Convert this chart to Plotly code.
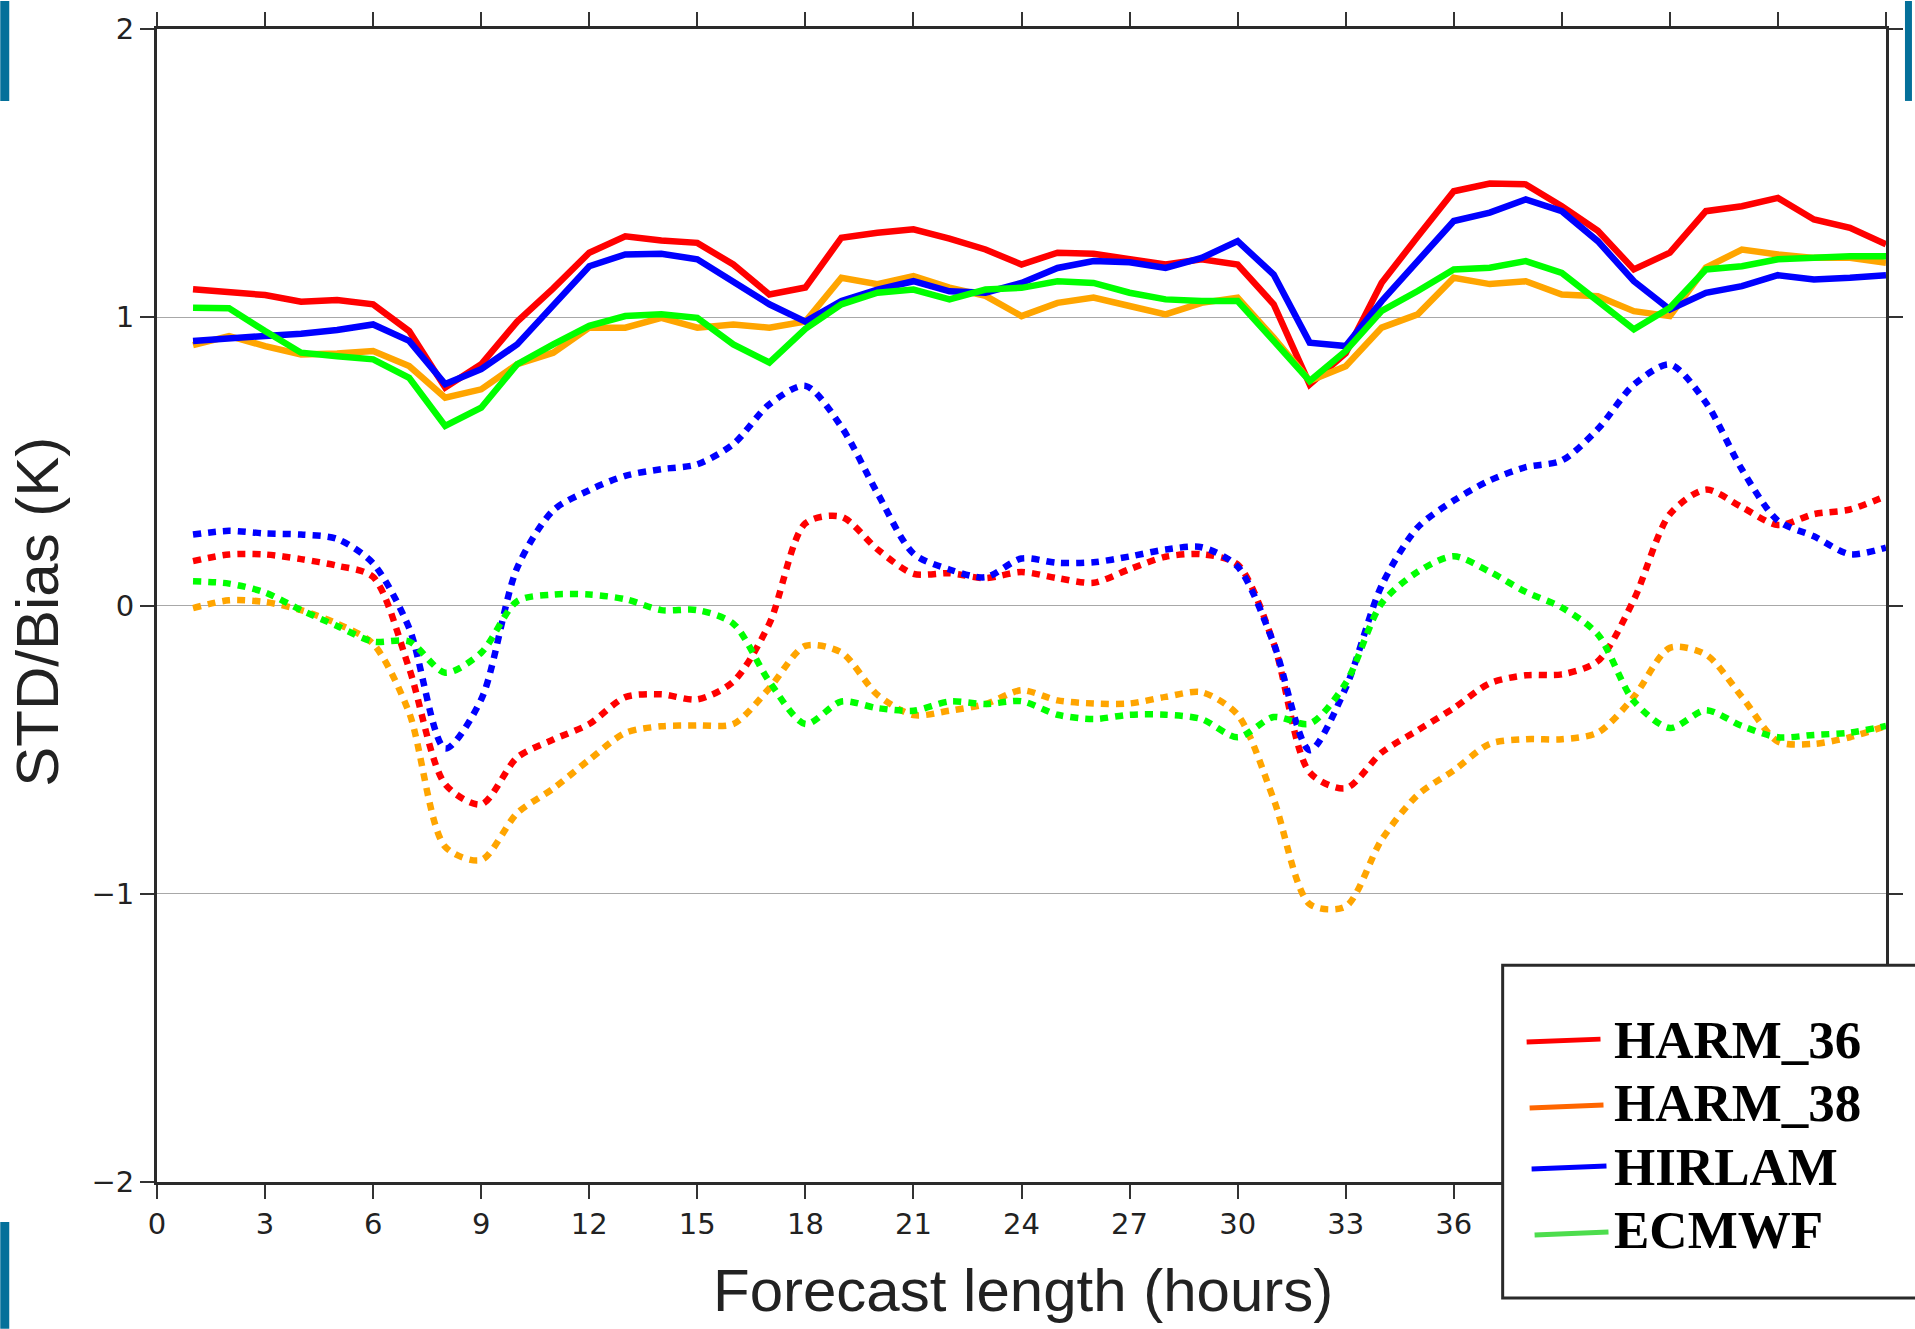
import plotly.graph_objects as go

# ---------------- data ----------------
hours = list(range(1, 49))

std_harm36 = [1.097, 1.089, 1.077, 1.054, 1.060, 1.045, 0.952, 0.756, 0.837, 0.985,
              1.100, 1.224, 1.281, 1.266, 1.258, 1.183, 1.079, 1.103, 1.276, 1.293,
              1.305, 1.273, 1.235, 1.183, 1.224, 1.220, 1.204, 1.183, 1.201, 1.183,
              1.045, 0.767, 0.875, 1.120, 1.280, 1.437, 1.464, 1.461, 1.385, 1.300,
              1.166, 1.224, 1.368, 1.385, 1.414, 1.339, 1.310, 1.253]
std_harm38 = [0.903, 0.935, 0.900, 0.871, 0.874, 0.883, 0.831, 0.721, 0.750, 0.837,
              0.877, 0.964, 0.964, 0.998, 0.964, 0.975, 0.964, 0.985, 1.137, 1.115,
              1.143, 1.103, 1.074, 1.004, 1.050, 1.068, 1.039, 1.010, 1.050, 1.068,
              0.929, 0.779, 0.830, 0.964, 1.010, 1.137, 1.115, 1.125, 1.079, 1.073,
              1.021, 1.004, 1.172, 1.235, 1.218, 1.206, 1.206, 1.189]
std_hirlam = [0.918, 0.924, 0.935, 0.943, 0.956, 0.975, 0.918, 0.768, 0.820, 0.906,
              1.039, 1.177, 1.218, 1.220, 1.201, 1.126, 1.045, 0.985, 1.056, 1.096,
              1.125, 1.090, 1.085, 1.119, 1.171, 1.195, 1.191, 1.171, 1.206, 1.264,
              1.148, 0.912, 0.900, 1.056, 1.195, 1.334, 1.363, 1.409, 1.368, 1.264,
              1.125, 1.027, 1.085, 1.108, 1.146, 1.131, 1.137, 1.146]
std_ecmwf = [1.033, 1.031, 0.952, 0.877, 0.865, 0.854, 0.790, 0.623, 0.686, 0.837,
             0.906, 0.970, 1.004, 1.010, 0.998, 0.906, 0.843, 0.960, 1.045, 1.085,
             1.096, 1.062, 1.096, 1.102, 1.125, 1.119, 1.085, 1.062, 1.056, 1.056,
             0.918, 0.779, 0.883, 1.022, 1.091, 1.166, 1.172, 1.195, 1.154, 1.056,
             0.958, 1.033, 1.166, 1.177, 1.201, 1.206, 1.212, 1.212]

bias_harm36 = [0.154, 0.177, 0.177, 0.161, 0.138, 0.099, -0.218, -0.620, -0.690, -0.527,
               -0.465, -0.411, -0.318, -0.308, -0.326, -0.264, -0.063, 0.285, 0.308, 0.195,
               0.110, 0.112, 0.095, 0.116, 0.095, 0.079, 0.126, 0.169, 0.178, 0.142,
               -0.131, -0.579, -0.634, -0.510, -0.433, -0.356, -0.270, -0.242, -0.239, -0.193,
               0.020, 0.317, 0.402, 0.341, 0.279, 0.317, 0.333, 0.380]
bias_harm38 = [-0.009, 0.018, 0.012, -0.016, -0.063, -0.133, -0.372, -0.837, -0.883, -0.720,
               -0.635, -0.535, -0.442, -0.419, -0.416, -0.411, -0.287, -0.140, -0.163, -0.310,
               -0.380, -0.365, -0.342, -0.294, -0.329, -0.340, -0.340, -0.317, -0.301, -0.379,
               -0.672, -1.036, -1.044, -0.812, -0.657, -0.572, -0.480, -0.464, -0.464, -0.441,
               -0.317, -0.147, -0.170, -0.317, -0.472, -0.480, -0.457, -0.418]
bias_hirlam = [0.246, 0.259, 0.250, 0.246, 0.231, 0.146, -0.078, -0.496, -0.326, 0.131,
               0.330, 0.400, 0.450, 0.473, 0.490, 0.560, 0.698, 0.762, 0.620, 0.390,
               0.180, 0.125, 0.098, 0.163, 0.148, 0.150, 0.170, 0.194, 0.202, 0.135,
               -0.131, -0.502, -0.286, 0.070, 0.271, 0.364, 0.434, 0.480, 0.503, 0.612,
               0.766, 0.836, 0.704, 0.472, 0.294, 0.240, 0.178, 0.201]
bias_ecmwf = [0.084, 0.076, 0.045, -0.016, -0.071, -0.125, -0.125, -0.233, -0.164, 0.015,
              0.038, 0.038, 0.022, -0.016, -0.016, -0.063, -0.264, -0.411, -0.333, -0.356,
              -0.365, -0.333, -0.342, -0.332, -0.379, -0.394, -0.379, -0.379, -0.394, -0.457,
              -0.387, -0.410, -0.270, 0.008, 0.117, 0.171, 0.117, 0.047, -0.007, -0.100,
              -0.332, -0.425, -0.363, -0.418, -0.457, -0.449, -0.441, -0.418]

model_names = ["HARM_36", "HARM_38", "HIRLAM", "ECMWF"]
line_colors = ["#ff0000", "#ffa500", "#0000ff", "#00ff00"]
legend_colors = ["#ff0000", "#ff6600", "#0000ff", "#4ddd4d"]
x_ticks = list(range(0, 49, 3))
# labels from 39 h onwards are hidden behind the legend box in the original
x_ticklabels = [str(v) if v <= 36 else "" for v in x_ticks]
y_ticks = [-2, -1, 0, 1, 2]
y_ticklabels = ["\u22122", "\u22121", "0", "1", "2"]

# ---------------- layout geometry ----------------
W, H = 1915, 1329
ML, MR, MT, MB = 157, 26, 28, 147
PW, PH = W - ML - MR, H - MT - MB


def px(X):
    return (X - ML) / PW


def py(Y):
    return (H - MB - Y) / PH


fig = go.Figure()

bias_sets = [bias_harm36, bias_harm38, bias_hirlam, bias_ecmwf]
std_sets = [std_harm36, std_harm38, std_hirlam, std_ecmwf]

for name, col, b in zip(model_names, line_colors, bias_sets):
    fig.add_trace(go.Scatter(x=hours, y=b, mode="lines", name=name + " bias",
                             line=dict(color=col, width=6.5, dash="8px,7px",
                                       shape="spline", smoothing=0.8),
                             showlegend=False))
for name, col, s in zip(model_names, line_colors, std_sets):
    fig.add_trace(go.Scatter(x=hours, y=s, mode="lines", name=name,
                             line=dict(color=col, width=6.5), showlegend=False))

axis_common = dict(showline=True, linecolor="#2a2a2a", linewidth=3, mirror="ticks",
                   ticks="outside", ticklen=14, tickwidth=2, tickcolor="#333333",
                   tickfont=dict(family="DejaVu Sans", size=29, color="#222222"),
                   zeroline=False)

fig.update_xaxes(range=[0, 48], tickvals=x_ticks, ticktext=x_ticklabels,
                 showgrid=False, **axis_common)
fig.update_yaxes(range=[-2, 2], tickvals=y_ticks, ticktext=y_ticklabels,
                 showgrid=True, gridcolor="#a8a8a8", gridwidth=1, **axis_common)

shapes = []
# teal decoration bars
teal = "#04709a"
for (x0, x1, y0, y1) in [(0, 9, 0, 100), (0, 9, 1222, 1329), (1908, 1915, 0, 100)]:
    shapes.append(dict(type="rect", xref="paper", yref="paper",
                       x0=px(x0), x1=px(x1), y0=py(y0), y1=py(y1),
                       fillcolor=teal, line=dict(width=0), layer="above"))

# legend box
shapes.append(dict(type="rect", xref="paper", yref="paper",
                   x0=px(1505), x1=px(1940), y0=py(965), y1=py(1298),
                   fillcolor="white", line=dict(color="#2a2a2a", width=3), layer="above"))

legend_lines = [(1529, 1042, 1603, 1039), (1532, 1108, 1606, 1105),
                (1534, 1169, 1609, 1166), (1537, 1235, 1611, 1232)]
for (x0, y0, x1, y1), col in zip(legend_lines, legend_colors):
    shapes.append(dict(type="line", xref="paper", yref="paper",
                       x0=px(x0), y0=py(y0), x1=px(x1), y1=py(y1),
                       line=dict(color=col, width=5), layer="above"))

annotations = []
legend_text_y = [1040, 1103, 1167, 1230]
for name, yy in zip(model_names, legend_text_y):
    annotations.append(dict(text="<b>" + name + "</b>", xref="paper", yref="paper",
                            x=px(1615), y=py(yy), xanchor="left", yanchor="middle",
                            showarrow=False,
                            font=dict(family="Liberation Serif", size=53, color="black")))

annotations.append(dict(text="Forecast length (hours)", xref="paper", yref="paper",
                        x=px(1025), y=py(1291), xanchor="center", yanchor="middle",
                        showarrow=False,
                        font=dict(family="Liberation Sans", size=60, color="#222222")))
annotations.append(dict(text="STD/Bias (K)", xref="paper", yref="paper",
                        x=px(37), y=py(611), xanchor="center", yanchor="middle",
                        textangle=-90, showarrow=False,
                        font=dict(family="Liberation Sans", size=60, color="#222222")))

fig.update_layout(width=W, height=H, margin=dict(l=ML, r=MR, t=MT, b=MB),
                  paper_bgcolor="white", plot_bgcolor="white",
                  shapes=shapes, annotations=annotations, showlegend=False)

fig.write_html("out.html")
